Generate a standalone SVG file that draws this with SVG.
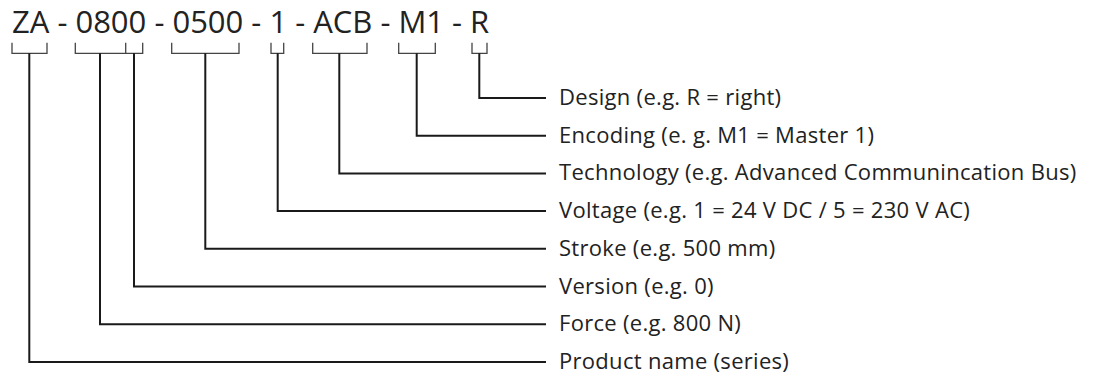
<svg xmlns="http://www.w3.org/2000/svg" width="1098" height="380" viewBox="0 0 1098 380">
<style>
.t{font-family:"Open Sans","Liberation Sans",sans-serif;fill:#222;}
.title{font-size:31px;}
.lbl{font-size:22px;letter-spacing:0.3px;}
.br{fill:none;stroke:#444;stroke-width:1.3;}
.ln{fill:none;stroke:#1a1a1a;stroke-width:2;}
</style>
<rect width="1098" height="380" fill="#fff"/>
<g id="code">
<text class="t title" x="12" y="33.3">ZA - 0800 - 0500 - 1 - ACB - M1 - R</text>
</g>
<g id="brackets">
<path class="br" d="M12,42.7 V53.3 H47 V42.7"/>
<path class="br" d="M75.3,42.7 V53.3 H142.7 V42.7 M125.7,42.7 V53.3"/>
<path class="br" d="M171.7,42.7 V53.3 H239 V42.7"/>
<path class="br" d="M271,42.7 V53.3 H283.7 V42.7"/>
<path class="br" d="M312.7,42.7 V53.3 H367 V42.7"/>
<path class="br" d="M398.7,42.7 V53.3 H435.3 V42.7"/>
<path class="br" d="M472,42.7 V53.3 H487 V42.7"/>
</g>
<g id="connectors">
<path class="ln" d="M479.3,53.3 V98 H546"/>
<path class="ln" d="M416.7,53.3 V135.7 H546"/>
<path class="ln" d="M339.3,53.3 V173.4 H546"/>
<path class="ln" d="M277.7,53.3 V211.1 H546"/>
<path class="ln" d="M205.3,53.3 V248.8 H546"/>
<path class="ln" d="M134,53.3 V286.5 H546"/>
<path class="ln" d="M100,53.3 V324.2 H546"/>
<path class="ln" d="M29.3,53.3 V361.9 H546"/>
</g>
<g id="label-design"><text class="t lbl" x="559" y="105">Design (e.g. R = right)</text></g>
<g id="label-encoding"><text class="t lbl" x="559" y="142.7">Encoding (e. g. M1 = Master 1)</text></g>
<g id="label-technology"><text class="t lbl" x="559" y="180.4">Technology (e.g. Advanced Communincation Bus)</text></g>
<g id="label-voltage"><text class="t lbl" x="559" y="218.1">Voltage (e.g. 1 = 24 V DC / 5 = 230 V AC)</text></g>
<g id="label-stroke"><text class="t lbl" x="559" y="255.8">Stroke (e.g. 500 mm)</text></g>
<g id="label-version"><text class="t lbl" x="559" y="293.5">Version (e.g. 0)</text></g>
<g id="label-force"><text class="t lbl" x="559" y="331.2">Force (e.g. 800 N)</text></g>
<g id="label-product"><text class="t lbl" x="559" y="368.9">Product name (series)</text></g>
</svg>
